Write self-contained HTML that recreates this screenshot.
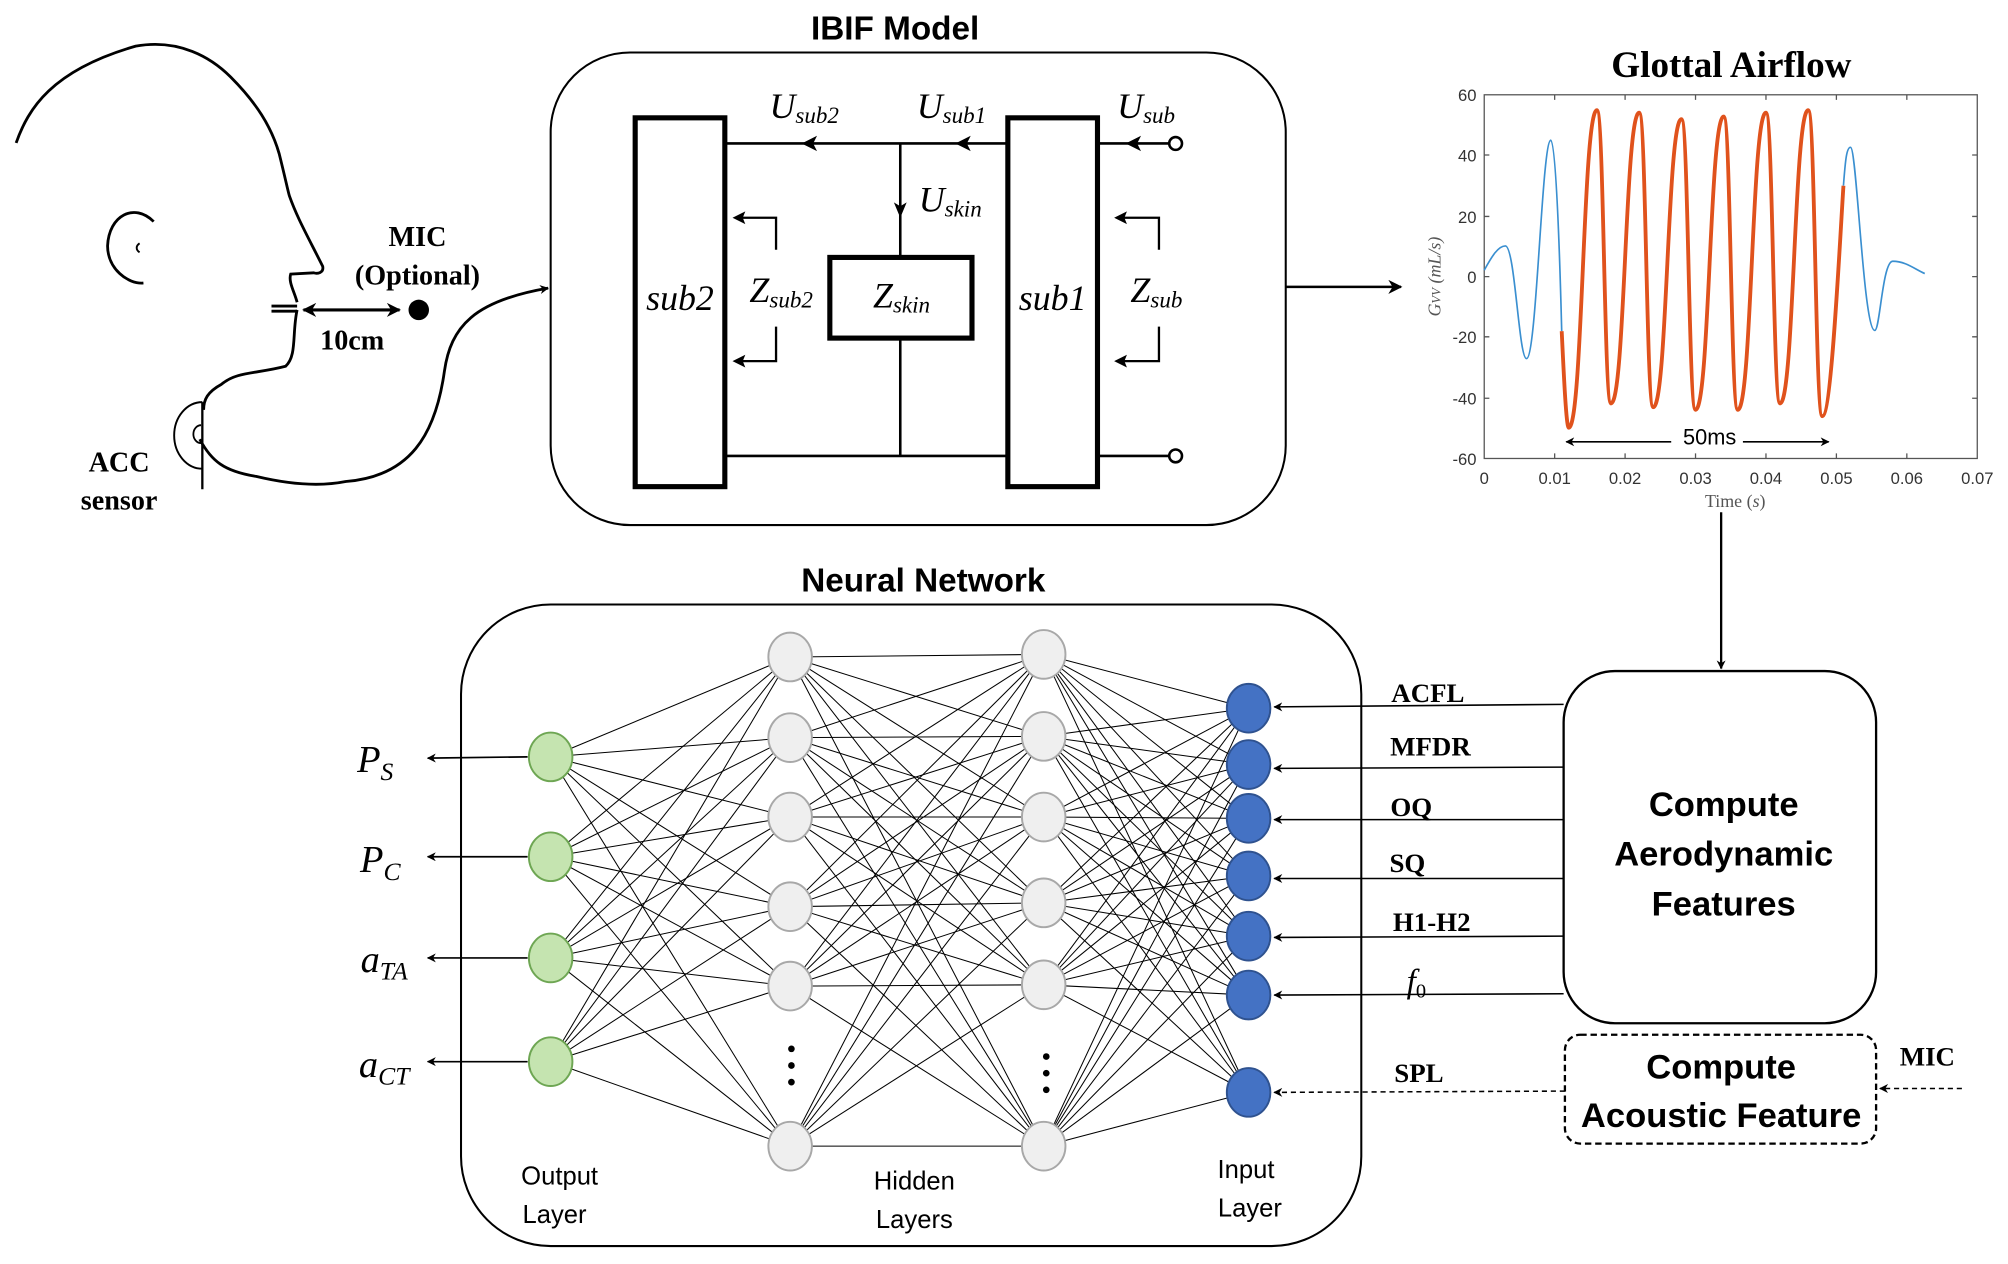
<!DOCTYPE html>
<html><head><meta charset="utf-8"><style>
html,body{margin:0;padding:0;background:#fff;}
svg{display:block;}
.sans{font-family:"Liberation Sans",sans-serif;}
.serif{font-family:"Liberation Serif",serif;}
</style></head><body>
<svg width="2008" height="1264" viewBox="0 0 1568 987" xmlns="http://www.w3.org/2000/svg">
<defs>
<marker id="ah" viewBox="0 0 10 10" refX="9" refY="5" markerWidth="7" markerHeight="7" orient="auto-start-reverse" markerUnits="userSpaceOnUse"><path d="M0,0 L10,5 L0,10 L3,5 z" fill="#000"/></marker>
<marker id="ahb" viewBox="0 0 10 10" refX="9" refY="5" markerWidth="11" markerHeight="11" orient="auto-start-reverse" markerUnits="userSpaceOnUse"><path d="M0,0 L10,5 L0,10 L3,5 z" fill="#000"/></marker>
</defs>
<rect width="1568" height="987" fill="#fff"/>

<!-- Head -->
<g fill="none" stroke="#000" stroke-width="2.2">
<path d="M12.6,111.6 C22,85 40,55 106,36 C140,30 165,45 180,60 C200,80 212,99 218,120 C223,140 225,150 226,153 C232,170 240,184 252,208 C253,213 248,214 245,213 L227,214 C225,220 230,228 232,236"/>
<path d="M212,239 L232,239 M212,243 L232,243"/>
<path d="M232,242 C228,260 232,278 223,286 C200,292 185,290 173,300 C162,306 159,312 159,320"/>
<path d="M158,314 L158,382" stroke-width="1.8"/>
<path d="M158,314 A22,26 0 0 0 158,366" stroke-width="1.5"/>
<path d="M157,332 A6,7 0 0 0 157,346" stroke-width="1.4"/>
<path d="M120,173 C105,158 85,168 84,192 C84,210 100,222 112,221"/>
<path d="M109,190 C106,192 106,195 109,197" stroke-width="1.5"/>
<path d="M156,343 C165,360 175,368 200,372 C225,378 250,380 270,376 C320,372 340,340 347,290 C352,255 370,235 428,225" marker-end="url(#ah)"/>
<path d="M237,242 L312,242" marker-start="url(#ahb)" marker-end="url(#ahb)" stroke-width="2.4"/>
</g>
<circle cx="327" cy="242" r="8" fill="#000"/>
<g class="serif" font-weight="bold" font-size="22" text-anchor="middle">
<text x="326" y="192">MIC</text>
<text x="326" y="222">(Optional)</text>
<text x="275" y="273">10cm</text>
<text x="93" y="368">ACC</text>
<text x="93" y="398">sensor</text>
</g>

<!-- IBIF -->
<text x="699" y="31" class="sans" font-weight="bold" font-size="26" text-anchor="middle">IBIF Model</text>
<rect x="430" y="41" width="574" height="369" rx="62" fill="none" stroke="#000" stroke-width="1.6"/>
<g fill="none" stroke="#000">
<rect x="496" y="92" width="70" height="288" stroke-width="4"/>
<rect x="787" y="92" width="70" height="288" stroke-width="4"/>
<rect x="648" y="201" width="111" height="63" stroke-width="4"/>
<path d="M566,112 L787,112 M857,112 L913,112 M566,356 L787,356 M857,356 L913,356 M703,112 L703,201 M703,264 L703,356" stroke-width="2"/>
<path d="M606,195 L606,170 L574,170 M606,255 L606,282 L574,282 M905,195 L905,170 L872,170 M905,255 L905,282 L872,282" stroke-width="1.8"/>
</g>
<circle cx="918" cy="112" r="5" fill="#fff" stroke="#000" stroke-width="2"/>
<circle cx="918" cy="356" r="5" fill="#fff" stroke="#000" stroke-width="2"/>
<g fill="#000">
<path d="M626,112 l12,-6 l-3,6 l3,6z"/>
<path d="M746,112 l12,-6 l-3,6 l3,6z"/>
<path d="M879,112 l12,-6 l-3,6 l3,6z"/>
<path d="M703,170 l-5,-12 l5,3 l5,-3z"/>
<path d="M572,170 l10,-5 l-2,5 l2,5z"/>
<path d="M572,282 l10,-5 l-2,5 l2,5z"/>
<path d="M870,170 l10,-5 l-2,5 l2,5z"/>
<path d="M870,282 l10,-5 l-2,5 l2,5z"/>
</g>
<g class="serif" font-style="italic" font-size="28" text-anchor="middle">
<text x="531" y="242">sub2</text>
<text x="822" y="242">sub1</text>
<text x="628" y="92">U<tspan font-size="18" dy="4">sub2</tspan></text>
<text x="743" y="92">U<tspan font-size="18" dy="4">sub1</tspan></text>
<text x="895" y="92">U<tspan font-size="18" dy="4">sub</tspan></text>
<text x="742" y="165">U<tspan font-size="18" dy="4">skin</tspan></text>
<text x="610" y="236">Z<tspan font-size="18" dy="4">sub2</tspan></text>
<text x="704" y="240">Z<tspan font-size="18" dy="4">skin</tspan></text>
<text x="903" y="236">Z<tspan font-size="18" dy="4">sub</tspan></text>
</g>
<path d="M1004,224 L1094,224" stroke="#000" stroke-width="2" marker-end="url(#ahb)"/>

<!-- Plot -->
<text x="1352" y="60" class="serif" font-weight="bold" font-size="29" text-anchor="middle">Glottal Airflow</text>
<rect x="1159" y="74" width="385" height="284" fill="none" stroke="#555" stroke-width="1"/>
<g stroke="#555" stroke-width="1">
<path d="M1159,121 h4 M1159,169 h4 M1159,216 h4 M1159,263 h4 M1159,311 h4 M1544,121 h-4 M1544,169 h-4 M1544,216 h-4 M1544,263 h-4 M1544,311 h-4"/>
<path d="M1214,358 v-4 M1269,358 v-4 M1324,358 v-4 M1379,358 v-4 M1434,358 v-4 M1489,358 v-4 M1214,74 v4 M1269,74 v4 M1324,74 v4 M1379,74 v4 M1434,74 v4 M1489,74 v4"/>
</g>
<g class="sans" font-size="13" fill="#333" text-anchor="end">
<text x="1153" y="79">60</text><text x="1153" y="126">40</text><text x="1153" y="174">20</text><text x="1153" y="221">0</text><text x="1153" y="268">-20</text><text x="1153" y="316">-40</text><text x="1153" y="363">-60</text>
</g>
<g class="sans" font-size="13" fill="#333" text-anchor="middle">
<text x="1159" y="378">0</text><text x="1214" y="378">0.01</text><text x="1269" y="378">0.02</text><text x="1324" y="378">0.03</text><text x="1379" y="378">0.04</text><text x="1434" y="378">0.05</text><text x="1489" y="378">0.06</text><text x="1544" y="378">0.07</text>
</g>
<text x="1355" y="396" class="serif" font-size="14" fill="#555" text-anchor="middle">Time (<tspan font-style="italic">s</tspan>)</text>
<text transform="translate(1125,216) rotate(-90)" class="serif" font-style="italic" font-size="14" fill="#555" text-anchor="middle">G<tspan font-size="10">VV</tspan> (mL/s)</text>
<path d="M1159,211 C1165,200 1170,192 1175.5,192 C1183,192 1186,280 1192,280 C1200,280 1204,109.5 1211,109.5 C1215,109.5 1218,200 1219.5,258.6" fill="none" stroke="#3a8fd0" stroke-width="1.3"/>
<path d="M1439.5,145 C1441,125 1442,115 1445,115 C1450,115 1455,258 1464,258 C1468,258 1470,204 1478,204 C1488,204 1495,210 1503,213.6" fill="none" stroke="#3a8fd0" stroke-width="1.3"/>
<path d="M1219.5,258.6 C1221,290 1223,334 1225,334 C1236,334 1236,86 1247,86 C1252.5,86 1252.5,315 1258,315 C1269,315 1269,88 1280,88 C1285.5,88 1285.5,318 1291,318 C1302,318 1302,93 1313,93 C1318.5,93 1318.5,320 1324,320 C1335,320 1335,91 1346,91 C1351.5,91 1351.5,320 1357,320 C1368,320 1368,88 1379,88 C1384.5,88 1384.5,315 1390,315 C1401,315 1401,86 1412,86 C1417.5,86 1417.5,325 1423,325 C1430,325 1436,200 1439.5,145" fill="none" stroke="#e0521c" stroke-width="3"/>
<path d="M1223,345 L1428,345" stroke="#000" stroke-width="1.3" marker-start="url(#ah)" marker-end="url(#ah)"/>
<rect x="1305" y="332" width="56" height="18" fill="#fff"/>
<text x="1335" y="347" class="sans" font-size="17" text-anchor="middle">50ms</text>
<path d="M1344,400 L1344,522" stroke="#000" stroke-width="1.8" marker-end="url(#ah)"/>

<!-- Neural net -->
<text x="721" y="462" class="sans" font-weight="bold" font-size="26" text-anchor="middle">Neural Network</text>
<rect x="360" y="472" width="703" height="501" rx="70" fill="none" stroke="#000" stroke-width="1.6"/>
<g id="lines" stroke="#000" stroke-width="0.8"></g>
<g id="nodes"></g>
<g class="sans" font-size="20" text-anchor="middle">
<text x="437" y="925">Output</text><text x="433" y="955">Layer</text>
<text x="714" y="929">Hidden</text><text x="714" y="959">Layers</text>
<text x="973" y="920">Input</text><text x="976" y="950">Layer</text>
</g>
<g fill="#000">
<circle cx="618" cy="819" r="2.6"/><circle cx="618" cy="832" r="2.6"/><circle cx="618" cy="845" r="2.6"/>
<circle cx="817" cy="825" r="2.6"/><circle cx="817" cy="838" r="2.6"/><circle cx="817" cy="851" r="2.6"/>
</g>
<g stroke="#000" stroke-width="1.3">
<path d="M412,591 L334,592" marker-end="url(#ah)"/>
<path d="M412,669 L334,669" marker-end="url(#ah)"/>
<path d="M412,748 L334,748" marker-end="url(#ah)"/>
<path d="M412,829 L334,829" marker-end="url(#ah)"/>
</g>
<g class="serif" font-style="italic" font-size="30" text-anchor="middle">
<text x="293" y="603">P<tspan font-size="20" dy="6">S</tspan></text>
<text x="297" y="681">P<tspan font-size="20" dy="6">C</tspan></text>
<text x="300" y="759">a<tspan font-size="20" dy="6">TA</tspan></text>
<text x="300" y="841">a<tspan font-size="20" dy="6">CT</tspan></text>
</g>

<!-- Feature boxes -->
<rect x="1221" y="524" width="244" height="275" rx="40" fill="none" stroke="#000" stroke-width="1.8"/>
<g class="sans" font-weight="bold" font-size="27" text-anchor="middle">
<text x="1346" y="637">Compute</text><text x="1346" y="676">Aerodynamic</text><text x="1346" y="715">Features</text>
<text x="1344" y="842">Compute</text><text x="1344" y="880">Acoustic Feature</text>
</g>
<rect x="1222" y="808" width="243" height="85" rx="12" fill="none" stroke="#000" stroke-width="1.8" stroke-dasharray="5,3"/>
<g stroke="#000" stroke-width="1.2">
<path d="M1221,550 L995,552" marker-end="url(#ah)"/>
<path d="M1221,599 L995,600" marker-end="url(#ah)"/>
<path d="M1221,640 L995,640" marker-end="url(#ah)"/>
<path d="M1221,686 L995,686" marker-end="url(#ah)"/>
<path d="M1221,731 L995,732" marker-end="url(#ah)"/>
<path d="M1221,776 L995,777" marker-end="url(#ah)"/>
<path d="M1222,852 L995,853" stroke-dasharray="4,3" marker-end="url(#ah)"/>
<path d="M1532,850 L1468,850" stroke-dasharray="4,3" marker-end="url(#ah)"/>
</g>
<g class="serif" font-weight="bold" font-size="21" text-anchor="middle">
<text x="1115" y="548">ACFL</text><text x="1117" y="590">MFDR</text><text x="1102" y="637">OQ</text><text x="1099" y="681">SQ</text><text x="1118" y="727">H1-H2</text>
<text x="1108" y="845">SPL</text><text x="1505" y="832">MIC</text>
</g>
<text x="1106" y="775" class="serif" font-style="italic" font-size="26" text-anchor="middle">f<tspan font-size="16" font-style="normal" dy="4">0</tspan></text>

<script>
(function(){
var NS="http://www.w3.org/2000/svg";
var out=[[430,591],[430,669],[430,748],[430,829]];
var h1=[[617,513],[617,576],[617,638],[617,708],[617,770],[617,895]];
var h2=[[815,511],[815,575],[815,638],[815,705],[815,769],[815,895]];
var inp=[[975,553],[975,597],[975,639],[975,684],[975,731],[975,777],[975,853]];
var L=document.getElementById("lines"),N=document.getElementById("nodes");
function conn(a,b){a.forEach(function(p){b.forEach(function(q){var l=document.createElementNS(NS,"line");l.setAttribute("x1",p[0]);l.setAttribute("y1",p[1]);l.setAttribute("x2",q[0]);l.setAttribute("y2",q[1]);L.appendChild(l);});});}
conn(out,h1);conn(h1,h2);conn(h2,inp);
function nodes(a,f,s){a.forEach(function(p){var e=document.createElementNS(NS,"ellipse");e.setAttribute("cx",p[0]);e.setAttribute("cy",p[1]);e.setAttribute("rx",17);e.setAttribute("ry",19);e.setAttribute("fill",f);e.setAttribute("stroke",s);e.setAttribute("stroke-width",1.5);N.appendChild(e);});}
nodes(out,"#c5e4b0","#6ea653");nodes(h1,"#efefef","#a8a8a8");nodes(h2,"#efefef","#a8a8a8");nodes(inp,"#4472c4","#2f528f");
})();
</script>
</svg>
</body></html>
